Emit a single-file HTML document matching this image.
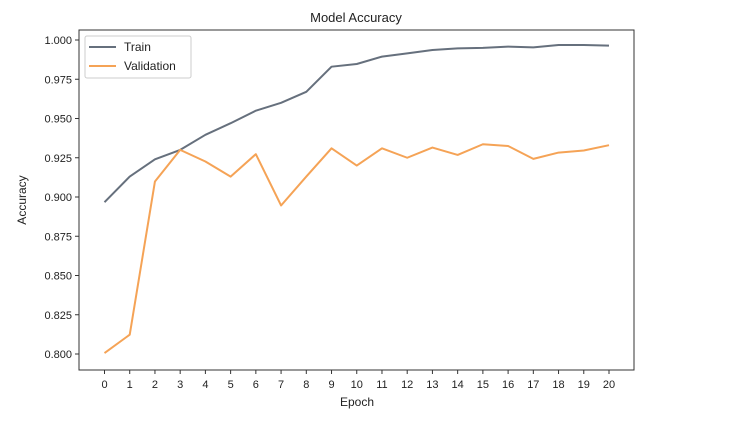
<!DOCTYPE html>
<html><head><meta charset="utf-8"><style>
body{margin:0;background:#fff;}
svg{display:block;font-family:"Liberation Sans","DejaVu Sans",sans-serif;}
</style></head><body>
<svg id="chart" width="756" height="428" viewBox="0 0 756 428">
<text x="356" y="22" text-anchor="middle" font-size="13" fill="#222">Model Accuracy</text>
<g id="axes"></g>
<g id="series"></g>
<rect x="79" y="30" width="555" height="340" fill="none" stroke="#333" stroke-width="1"/>
<text x="357" y="406" text-anchor="middle" font-size="12" fill="#222">Epoch</text>
<text x="26" y="200" text-anchor="middle" font-size="12" fill="#222" transform="rotate(-90 26 200)">Accuracy</text>
<g>
<rect x="85" y="36" width="106" height="42" rx="2" fill="#fff" stroke="#ccc"/>
<line x1="89" y1="47" x2="116" y2="47" stroke="#66707d" stroke-width="2"/>
<text x="124" y="51" font-size="12" fill="#222">Train</text>
<line x1="89" y1="66" x2="116" y2="66" stroke="#f5a356" stroke-width="2"/>
<text x="124" y="70" font-size="12" fill="#222">Validation</text>
</g>
</svg>
<script>
const epochs=[0,1,2,3,4,5,6,7,8,9,10,11,12,13,14,15,16,17,18,19,20];
const trainAcc=[0.8967,0.913,0.924,0.930,0.9396,0.947,0.955,0.960,0.967,0.983,0.9847,0.9894,0.9915,0.9936,0.9947,0.995,0.9958,0.9953,0.9968,0.9968,0.9964];
const valAcc=[0.8006,0.8123,0.9099,0.930,0.9226,0.913,0.9273,0.8946,0.913,0.931,0.920,0.931,0.925,0.9315,0.9268,0.9336,0.9325,0.9243,0.9283,0.9296,0.933];
const yTicks=[0.800,0.825,0.850,0.875,0.900,0.925,0.950,0.975,1.000];
const NS='http://www.w3.org/2000/svg';
function xs(v){return 104.5+(v-0)*(609-104.5)/20;}
function ys(v){return 354-(v-0.8)*(354-40)/0.2;}
const axes=document.getElementById('axes');
const series=document.getElementById('series');
function mk(tag,attrs,parent){const e=document.createElementNS(NS,tag);for(const k in attrs)e.setAttribute(k,attrs[k]);parent.appendChild(e);return e;}
epochs.forEach(ep=>{
  const x=xs(ep);
  const t=mk('line',{x1:x,x2:x,y1:370,y2:374,stroke:'#333'},axes);
  
  
  const l=mk('text',{x:x,y:388,'text-anchor':'middle','font-size':'11',fill:'#222'},axes);
  l.textContent=ep;
  
  
});
yTicks.forEach(v=>{
  const y=ys(v);
  const t=mk('line',{x1:75,x2:79,y1:y,y2:y,stroke:'#333'},axes);
  
  
  const l=mk('text',{x:72,y:y+4,'text-anchor':'end','font-size':'11',fill:'#222'},axes);
  l.textContent=v.toFixed(3);
  
  
});
function line(vals,color,name){
  const p=mk('polyline',{points:vals.map((v,i)=>xs(epochs[i])+','+ys(v)).join(' '),fill:'none',stroke:color,'stroke-width':'2','stroke-linejoin':'round'},series);
  
  
}
line(trainAcc,'#66707d','train-line');
line(valAcc,'#f5a356','validation-line');
</script>
</body></html>
